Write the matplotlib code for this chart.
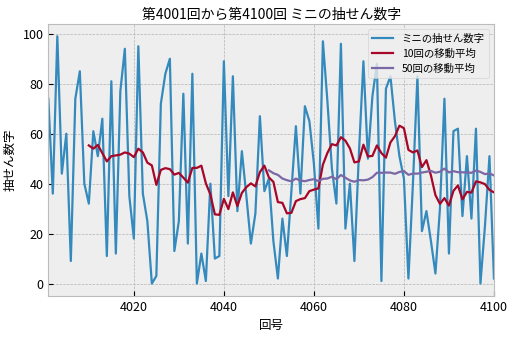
import matplotlib
matplotlib.use("Agg")
import matplotlib.pyplot as plt
import pandas as pd

# draws 4001..4100
draw_no = list(range(4001, 4101))
numbers = [
    74, 36, 99, 44, 60, 9, 74, 85, 40, 32,
    61, 51, 66, 11, 81, 12, 77, 94, 35, 18,
    95, 36, 25, 0, 3, 72, 84, 90, 13, 25,
    76, 16, 84, 0, 12, 1, 40, 10, 11, 89,
    35, 83, 29, 53, 35, 16, 28, 67, 37, 42,
    17, 2, 26, 11, 37, 63, 36, 71, 65, 48,
    22, 97, 73, 46, 32, 96, 22, 40, 9, 52,
    89, 50, 75, 88, 1, 78, 83, 65, 51, 42,
    2, 40, 83, 21, 29, 17, 4, 30, 74, 12,
    61, 62, 27, 51, 26, 62, 0, 23, 51, 2,
]

plt.style.use("bmh")
plt.rcParams["font.family"] = ["Noto Sans CJK JP", "DejaVu Sans"]

s = pd.Series(numbers, index=draw_no)
ma10 = s.rolling(10).mean()
ma50 = s.rolling(50).mean()

fig = plt.figure(figsize=(5.14, 3.37), dpi=100)
ax = fig.add_axes([0.094, 0.122, 0.867, 0.807])

ax.plot(s.index, s.values, color="#348ABD", lw=1.6, label="ミニの抽せん数字")
ax.plot(ma10.index, ma10.values, color="#A60628", lw=1.6, label="10回の移動平均")
ax.plot(ma50.index, ma50.values, color="#7A68A6", lw=1.6, label="50回の移動平均")

ax.set_xlim(4001, 4100)
ax.set_title("第4001回から第4100回 ミニの抽せん数字", fontsize=10, pad=4)
ax.set_xlabel("回号", fontsize=9)
ax.set_ylabel("抽せん数字", fontsize=9)
ax.tick_params(labelsize=9)
ax.legend(loc="upper right", fontsize=7.5)

fig.savefig("out.png", dpi=100)
